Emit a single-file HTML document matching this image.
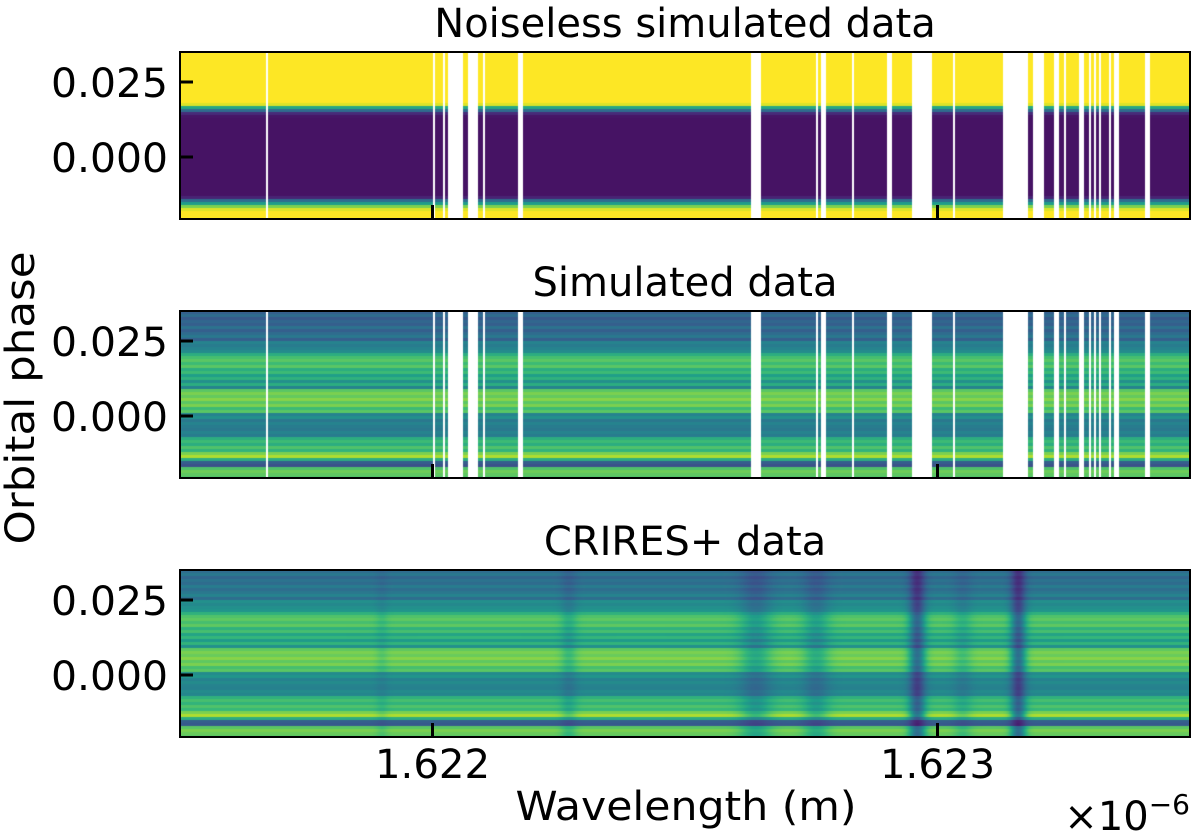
<!DOCTYPE html>
<html><head><meta charset="utf-8"><style>
html,body{margin:0;padding:0;background:#fff;}
#wrap{position:relative;width:1200px;height:838px;overflow:hidden;}
canvas{position:absolute;left:0;top:0;}
svg{position:absolute;left:0;top:0;}
text{font-family:"DejaVu Sans","Liberation Sans",sans-serif;fill:#000;}
</style></head><body>
<div id="wrap">
<canvas id="cv" width="1200" height="838"></canvas>
<svg id="sv" width="1200" height="838"></svg>
</div>
<script>
// ---- data ----
const xTicks = [1.622, 1.623];
const xTickLabels = ["1.622", "1.623"];
const yTicks = [0.025, 0.000];
const yTickLabels = ["0.025", "0.000"];
const panelTitles = ["Noiseless simulated data", "Simulated data", "CRIRES+ data"];
// masked (white) wavelength intervals, in 1e-6 m
const maskStart = [1.62167,1.62200,1.62202,1.62203,1.62205,1.62207,1.62210,1.62217,1.62263,1.62276,1.62277,1.62283,1.62290,1.62295,1.62303,1.62313,1.62319,1.62323,1.62325,1.62328,1.62330,1.62331,1.62332,1.62334,1.62335,1.62341];
const maskEnd   = [1.621674,1.622004,1.622024,1.62205,1.62206,1.62209,1.622104,1.62218,1.62265,1.622764,1.62278,1.622834,1.62291,1.62299,1.623034,1.62318,1.62321,1.62324,1.623255,1.62329,1.623304,1.623314,1.623324,1.623344,1.62336,1.62342];
// row intensities (top to bottom), one per 3 px row
const rowsNoiseless = [1,1,1,1,1,1,1,1,1,1,1,1,1,1,1,1,1,0.95,0.6,0.35,0.12,0.06,0.05,0.05,0.05,0.05,0.05,0.05,0.05,0.05,0.05,0.05,0.05,0.05,0.05,0.05,0.05,0.05,0.05,0.05,0.05,0.05,0.05,0.05,0.05,0.05,0.05,0.05,0.1,0.35,0.55,0.8,0.95,1,1,1];
const rowsSimulated = [0.3,0.35,0.28,0.33,0.3,0.38,0.3,0.35,0.4,0.3,0.45,0.42,0.45,0.48,0.62,0.7,0.74,0.68,0.74,0.62,0.68,0.56,0.64,0.5,0.62,0.45,0.74,0.8,0.76,0.82,0.74,0.8,0.68,0.74,0.45,0.5,0.4,0.45,0.42,0.4,0.45,0.42,0.62,0.68,0.62,0.72,0.65,0.8,0.88,0.62,0.3,0.25,0.72,0.78,0.75,0.72];
const rowsCrires = [0.35,0.4,0.33,0.38,0.35,0.42,0.36,0.4,0.45,0.36,0.5,0.47,0.5,0.52,0.64,0.72,0.75,0.7,0.75,0.64,0.7,0.58,0.66,0.54,0.65,0.5,0.75,0.8,0.77,0.82,0.75,0.8,0.7,0.74,0.48,0.52,0.44,0.48,0.45,0.44,0.48,0.46,0.64,0.7,0.65,0.72,0.67,0.8,0.88,0.62,0.3,0.28,0.74,0.8,0.77,0.74];
// CRIRES+ telluric absorption lines: centre (1e-6 m), depth, half-width (1e-6 m)
const lineCentre = [1.621900,1.622270,1.622640,1.622760,1.622960,1.623160,1.623050];
const lineDepth  = [0.06,0.12,0.2,0.18,0.45,0.45,0.1];
const lineWidth  = [0.000012,0.000016,0.000030,0.000025,0.000016,0.000015,0.000018];

// ---- layout ----
const X0=180, X1=1190, W0=1.6215, W1=1.6235;
const panelTop=[52,311,570], PH=167;
const P0=0.035, P1=-0.02067;
const xs = w => X0 + (w-W0)/(W1-W0)*(X1-X0);
const ys = (p,top) => top + (P0-p)/(P0-P1)*PH;

const vir=[[68,1,84],[72,40,120],[62,74,137],[49,104,142],[38,130,142],[31,158,137],[53,183,121],[109,205,89],[180,222,44],[253,231,37]];
function viridis(t){t=Math.max(0,Math.min(1,t));const f=t*(vir.length-1),i=Math.min(vir.length-2,Math.floor(f)),r=f-i;
return vir[i].map((c,k)=>Math.round(c+(vir[i+1][k]-c)*r));}

const cv=document.getElementById('cv'),ctx=cv.getContext('2d');
const img=ctx.createImageData(1200,838);
const rowSets=[rowsNoiseless,rowsSimulated,rowsCrires];
function masked(w){for(let k=0;k<maskStart.length;k++){if(w>=maskStart[k]&&w<=maskEnd[k])return true;}return false;}
function absorb(w){let a=0;for(let k=0;k<lineCentre.length;k++){const d=(w-lineCentre[k])/lineWidth[k];a+=lineDepth[k]*Math.exp(-d*d);}return a;}
for(let p=0;p<3;p++){
  const rows=rowSets[p];
  for(let y=panelTop[p];y<panelTop[p]+PH;y++){
    const fr=(y-panelTop[p])/PH*rows.length;
    const ri=Math.min(rows.length-1,Math.floor(fr));
    const v=rows[ri];
    for(let x=X0;x<X1;x++){
      const w=W0+(x+0.5-X0)/(X1-X0)*(W1-W0);
      let col;
      if(p<2&&masked(w)) col=[255,255,255];
      else {
        let t=v;
        if(p===2) t=v*(1-absorb(w))-absorb(w)*0.15;
        col=viridis(t);
      }
      const o=(y*1200+x)*4;
      img.data[o]=col[0];img.data[o+1]=col[1];img.data[o+2]=col[2];img.data[o+3]=255;
    }
  }
}
ctx.putImageData(img,0,0);

// ---- axes ----
const NS='http://www.w3.org/2000/svg',sv=document.getElementById('sv');
function mk(tag,attrs,parent){const e=document.createElementNS(NS,tag);for(const k in attrs)e.setAttribute(k,attrs[k]);(parent||sv).appendChild(e);return e;}
const panelNames=['noiseless','simulated','crires'];
for(let p=0;p<3;p++){
  const g=mk('g',{});
  
  
  const fr=mk('rect',{x:X0,y:panelTop[p],width:X1-X0,height:PH,fill:'none',stroke:'#000','stroke-width':2},g);
  
  
  const t=mk('text',{x:685,y:panelTop[p]-15,'font-size':40,'text-anchor':'middle'},g);
  t.textContent=panelTitles[p];
  
  
  yTicks.forEach((v,i)=>{
    const yy=ys(v,panelTop[p]);
    const tk=mk('line',{x1:X0,x2:X0+13,y1:yy,y2:yy,stroke:'#000','stroke-width':3},g);
    
    
    const tl=mk('text',{x:168,y:yy+15,'font-size':40,'text-anchor':'end',textLength:117,lengthAdjust:'spacingAndGlyphs'},g);
    tl.textContent=yTickLabels[i];
    
    
  });
  xTicks.forEach((v,i)=>{
    const xx=xs(v);
    const tk=mk('line',{x1:xx,x2:xx,y1:panelTop[p]+PH,y2:panelTop[p]+PH-14,stroke:'#000','stroke-width':3},g);
    
    
    if(p===2){
      const tl=mk('text',{x:xx,y:778,'font-size':40,'text-anchor':'middle',textLength:115,lengthAdjust:'spacingAndGlyphs'},g);
      tl.textContent=xTickLabels[i];
      
      
    }
  });
}
const xl=mk('text',{x:686,y:820,'font-size':40,'text-anchor':'middle',textLength:341,lengthAdjust:'spacingAndGlyphs'});
xl.textContent='Wavelength (m)';


const yl=mk('text',{x:0,y:0,'font-size':40,'text-anchor':'middle',transform:'translate(34,398) rotate(-90)',textLength:293,lengthAdjust:'spacingAndGlyphs'});
yl.textContent='Orbital phase';


const off=mk('text',{x:1190,y:830,'font-size':40,'text-anchor':'end'});
off.innerHTML='×10<tspan dy="-16" font-size="28">−6</tspan>';


</script>
</body></html>
